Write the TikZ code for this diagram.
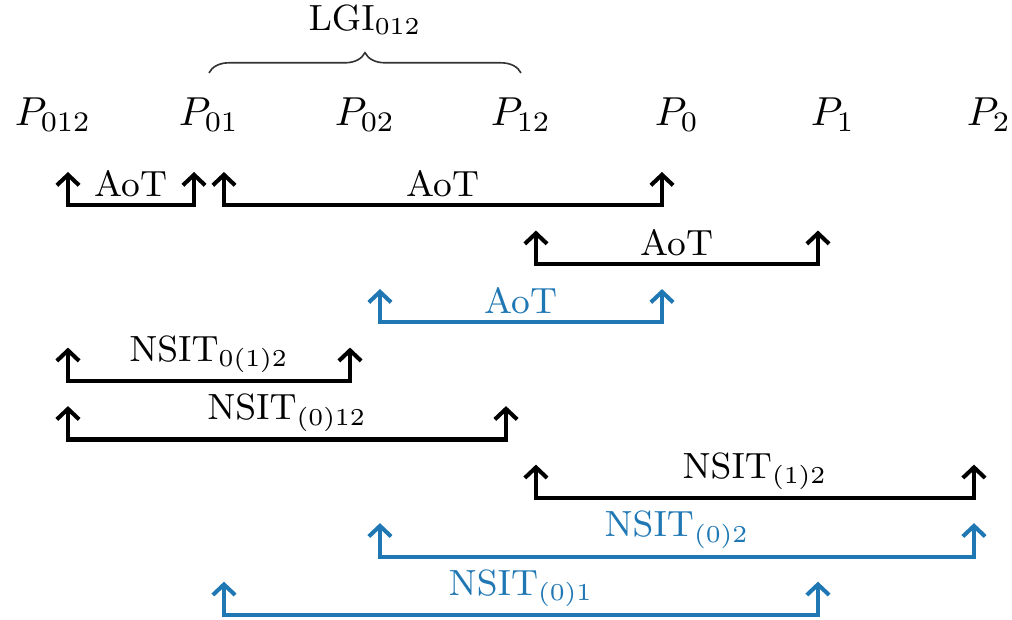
\documentclass[tikz,border=0pt]{standalone}
\usepackage{amsmath}
\usepackage{tikz}
\usetikzlibrary{positioning,arrows.meta,decorations.pathreplacing,calc}
\definecolor{tabblue}{RGB}{31,119,180}

\begin{document}
\begin{tikzpicture}
	\tikzstyle{main}=[inner sep=0pt, node distance=1.354cm, on grid]
	\tikzstyle{bracket}=[{Straight Barb[length=2.6pt,width=5.5pt]}-{Straight Barb[length=2.6pt,width=5.5pt]}, line width=1pt, to path={-- ++(0,-0.29) -| (\tikztotarget) \tikztonodes}]
	\tikzstyle{tag}=[pos=0.25, above, inner sep=1.5pt, font=\small]
	\useasboundingbox (-0.46,0.998) rectangle (8.324,-4.383);
	\node[main] (p012) [label=center:$P_{012}$] {};
	\node[main] (p01) [right=of p012, label=center:$P_{01}$] {};
	\node[main] (p02) [right=of p01, label=center:$P_{02}$] {};
	\node[main] (p12) [right=of p02, label=center:$P_{12}$] {};
	\node[main] (p0) [right=of p12, label=center:$P_{0}$] {};
	\node[main] (p1) [right=of p0, label=center:$P_{1}$] {};
	\node[main] (p2) [right=of p1, label=center:$P_{2}$] {};
	% rows of brackets
	\foreach \i in {1,...,8} \coordinate (r\i) at (0,{-0.495-0.508*(\i-1)});
	\coordinate (bl) at ($(p01)+(0,0.365)$);
	\coordinate (br) at ($(p12)+(0,0.365)$);
	\draw[decorate, decoration={brace, amplitude=5pt}, black!80] (bl) -- (br) node[midway, above=6pt, black, font=\small] {$\mathrm{LGI}_{012}$};
	\path
	([xshift=1.3mm]p012 |- r1) edge[bracket] node[tag] {AoT} ([xshift=-1.3mm]p01 |- r1)
	([xshift=1.3mm]p01 |- r1) edge[bracket] node[tag] {AoT} ([xshift=-1.3mm]p0 |- r1)
	([xshift=1.3mm]p12 |- r2) edge[bracket] node[tag] {AoT} ([xshift=-1.3mm]p1 |- r2)
	([xshift=1.3mm]p02 |- r3) edge[bracket, tabblue] node[tag, tabblue] {AoT} ([xshift=-1.3mm]p0 |- r3)
	([xshift=1.3mm]p012 |- r4) edge[bracket] node[tag] {$\mathrm{NSIT}_{0(1)2}$} ([xshift=-1.3mm]p02 |- r4)
	([xshift=1.3mm]p012 |- r5) edge[bracket] node[tag] {$\mathrm{NSIT}_{(0)12}$} ([xshift=-1.3mm]p12 |- r5)
	([xshift=1.3mm]p12 |- r6) edge[bracket] node[tag] {$\mathrm{NSIT}_{(1)2}$} ([xshift=-1.3mm]p2 |- r6)
	([xshift=1.3mm]p02 |- r7) edge[bracket, tabblue] node[tag, tabblue] {$\mathrm{NSIT}_{(0)2}$} ([xshift=-1.3mm]p2 |- r7)
	([xshift=1.3mm]p01 |- r8) edge[bracket, tabblue] node[tag, tabblue] {$\mathrm{NSIT}_{(0)1}$} ([xshift=-1.3mm]p1 |- r8);
\end{tikzpicture}
\end{document}
